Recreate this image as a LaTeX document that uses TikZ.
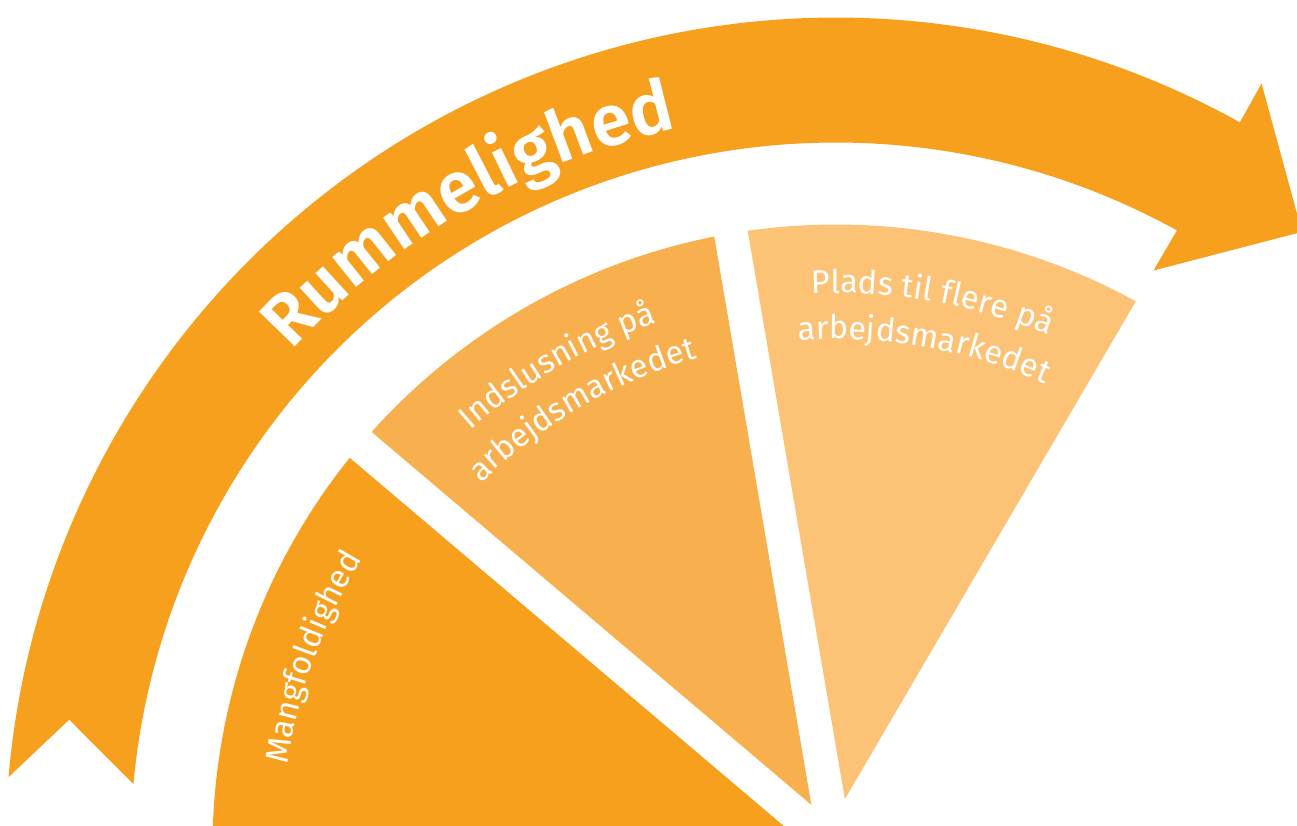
\documentclass[tikz,border=0pt]{standalone}
\usepackage{fontspec}
\setmainfont{Fira Sans}
\IfFontExistsTF{Fira Sans SemiBold}{\newfontfamily\bandfont{Fira Sans SemiBold}}{\newfontfamily\bandfont{Fira Sans}[UprightFont=*Bold]}
\usepackage{tikz}
\usetikzlibrary{decorations.text}

\definecolor{rumorange}{HTML}{F6A01E}
\definecolor{indslorange}{HTML}{F8AF4D}
\definecolor{pladsorange}{HTML}{FCC377}

\begin{document}
\begin{tikzpicture}[
  bandtext/.style={decorate, decoration={text along path, text align=center, text color=white,
    text={|\bandfont\fontsize{41}{48}\selectfont|#1}}},
  wedgetext/.style={decorate, decoration={text along path, text align=center, text color=white,
    text={|\fontsize{18.5}{23}\selectfont|#1}}}
]
\useasboundingbox (0,0) rectangle (25.94,16.5);
\clip (0,0) rectangle (25.94,16.5);

\begin{scope}[shift={(16.72,-0.46)}]

% arrow
\fill[rumorange] (175.1:16.61) arc[start angle=175.1, end angle=60.9, radius=16.61]
  -- (60.9:17.5) -- (52.9:15.45) -- (61.2:13.18)
  -- (61.1:14.11) arc[start angle=61.1, end angle=174.8, radius=14.11]
  -- (170.5:15.55) -- cycle;
\path[bandtext={Rummelighed}] (160:14.74) arc[start angle=160, end angle=80, radius=14.74];

% wedges
\fill[pladsorange] (79.7:0.994) -- (61.26:12.47) arc[start angle=61.26, end angle=98.14, radius=12.47] -- cycle;
\fill[indslorange] (119.7:0.994) -- (101.26:12.47) arc[start angle=101.26, end angle=138.14, radius=12.47] -- cycle;
\fill[rumorange] (159.7:0.994) -- (141.26:12.47) arc[start angle=141.26, end angle=178.14, radius=12.47] -- cycle;

\path[wedgetext={Plads til flere på}] (110:11.1) arc[start angle=110, end angle=50, radius=11.1];
\path[wedgetext={arbejdsmarkedet}] (110:10.18) arc[start angle=110, end angle=50, radius=10.18];
\path[wedgetext={Indslusning på}] (150:11.1) arc[start angle=150, end angle=90, radius=11.1];
\path[wedgetext={arbejdsmarkedet}] (150:10.18) arc[start angle=150, end angle=90, radius=10.18];
\path[wedgetext={Mangfoldighed}] (190:11.1) arc[start angle=190, end angle=130, radius=11.1];

\end{scope}
\end{tikzpicture}
\end{document}
